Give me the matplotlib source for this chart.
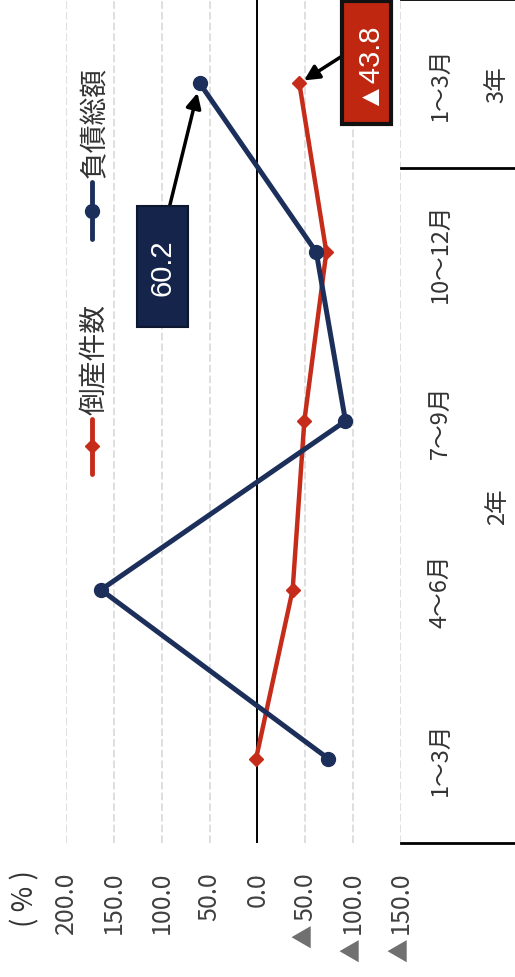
import matplotlib
matplotlib.use("Agg")
import matplotlib.pyplot as plt
from matplotlib.patches import Rectangle

plt.rcParams['font.family'] = ['Noto Sans CJK JP', 'DejaVu Sans']

# ---- data ----
categories = ["1～3月", "4～6月", "7～9月", "10～12月", "1～3月"]
years = ["2年", "3年"]
year_spans = [(0, 3), (4, 4)]
bankruptcies = [1.4, -36.8, -49.0, -72.0, -43.8]     # 倒産件数 (%)
liabilities = [-74.0, 163.5, -92.0, -61.5, 60.2]     # 負債総額 (%)
value_ticks = [200, 150, 100, 50, 0, -50, -100, -150]
series_names = ["倒産件数", "負債総額"]

RED = "#c62c1a"
NAVY = "#1c2f5b"

fig = plt.figure(figsize=(5.15, 9.78), dpi=100)
W, H = 515, 978
x0, x1, y0, y1 = 66, 401, 0, 844
ax = fig.add_axes([x0 / W, 1 - y1 / H, (x1 - x0) / W, (y1 - y0) / H])

ax.set_xlim(200, -150)
ax.set_ylim(-0.5, len(categories) - 0.5)
for s in ax.spines.values():
    s.set_visible(False)
ax.set_xticks([])
ax.set_yticks([])

# grid lines
for v in value_ticks:
    if v == 0:
        ax.axvline(v, color="black", lw=1.4, zorder=2)
    else:
        ax.axvline(v, color="#d6d6d6", lw=1.1, ls=(0, (5, 2)), zorder=1)

idx = list(range(len(categories)))
ax.plot(bankruptcies, idx, color=RED, lw=3.2, marker="D", ms=7.5,
        zorder=4, clip_on=False)
ax.plot(liabilities, idx, color=NAVY, lw=3.6, marker="o", ms=10,
        zorder=5, clip_on=False)

# value tick labels (rotated); negative values get a grey ▲ prefix
xt = ax.get_xaxis_transform()
for v in value_ticks:
    t = ax.text(v, -0.033, f"{abs(v):.1f}", transform=xt, rotation=90,
                ha="center", va="top", fontsize=18, color="#404040")
    if v < 0:
        ax.annotate("▲", xy=(0.5, 0), xycoords=t, xytext=(0, -3),
                    textcoords="offset points", rotation=90, ha="center",
                    va="top", fontsize=17, color="#6f6f6f")
ax.text(242, -0.031, "( % )", transform=xt, rotation=90, ha="center",
        va="top", fontsize=20, color="#333333")

# category labels
yt = ax.get_yaxis_transform()
for i, c in enumerate(categories):
    ax.text(1.116, i, c, transform=yt, rotation=90, ha="center",
            va="center", fontsize=17, color="#333333")
for (a, b), yname in zip(year_spans, years):
    ax.text(1.287, (a + b) / 2, yname, transform=yt, rotation=90,
            ha="center", va="center", fontsize=17, color="#333333")
for yy in [-0.5, 3.5, 4.5]:
    ax.plot([1.0, 1.34], [yy, yy], transform=yt, color="black", lw=2,
            clip_on=False, zorder=6)

# legend (rotated, drawn manually)
ta = ax.transAxes
for (col, mk, ms, lx, ly0, ly1, lm, ty, name) in [
        (RED, "D", 7.5, 0.0776, 0.502, 0.437, 0.470, 0.508, series_names[0]),
        (NAVY, "o", 10, 0.0776, 0.783, 0.716, 0.749, 0.789, series_names[1])]:
    ax.plot([lx, lx], [ly0, ly1], transform=ta, color=col, lw=3.5,
            solid_capstyle="round", zorder=6)
    ax.plot([lx], [lm], transform=ta, color=col, marker=mk, ms=ms, zorder=6)
    ax.text(lx + 0.008, ty, name, transform=ta, rotation=90, ha="center",
            va="bottom", fontsize=20, color="#333333")

# data callouts
lab_font = ['Liberation Sans', 'DejaVu Sans']
# 60.2 (navy)
ax.add_patch(Rectangle((126, 2.557), 72.9 - 126, 3.274 - 2.557,
                       facecolor="#14244a", edgecolor="#0d1730", lw=1.5,
                       zorder=7))
ax.text((126 + 72.9) / 2, (2.557 + 3.274) / 2, f"{liabilities[4]:.1f}",
        rotation=90, ha="center", va="center", fontsize=21, color="white",
        family=lab_font, zorder=8)
ax.annotate("", xy=(liabilities[4], 4), xytext=(91.7, 3.274),
            arrowprops=dict(arrowstyle="-|>,head_length=0.9,head_width=0.45",
                            color="black", lw=2.5, shrinkA=0, shrinkB=7),
            zorder=6)
# ▲43.8 (red)
ax.add_patch(Rectangle((-88.5, 3.76), -139.6 + 88.5, 4.488 - 3.76,
                       facecolor="#bf2710", edgecolor="#111111", lw=3,
                       zorder=7, clip_on=False))
ax.text((-88.5 - 139.6) / 2, (3.76 + 4.488) / 2,
        f"▲{abs(bankruptcies[4]):.1f}", rotation=90, ha="center",
        va="center", fontsize=21, color="white", family=lab_font, zorder=8)
ax.annotate("", xy=(bankruptcies[4], 4), xytext=(-88.5, 4.162),
            arrowprops=dict(arrowstyle="-|>,head_length=0.9,head_width=0.45",
                            color="black", lw=2.5, shrinkA=0, shrinkB=4),
            zorder=6)

fig.savefig("out.png", dpi=100)
